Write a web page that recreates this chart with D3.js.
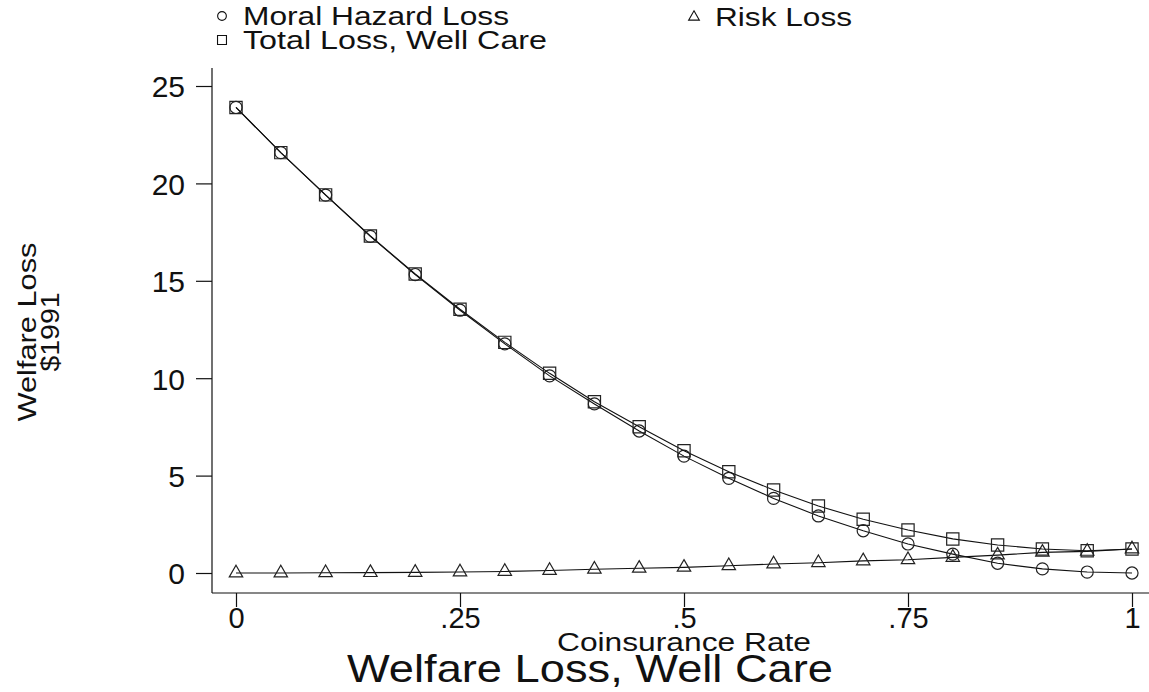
<!DOCTYPE html>
<html>
<head>
<meta charset="utf-8">
<script src="https://cdn.jsdelivr.net/npm/d3@7"></script>
<style>
  html, body { margin: 0; padding: 0; background: #fff; }
  svg { display: block; font-family: "Liberation Sans", Arial, sans-serif; }
</style>
</head>
<body>
<svg id="chart" width="1149" height="692"></svg>
<script>
// Coinsurance rate grid
const rate = [0, 0.05, 0.10, 0.15, 0.20, 0.25, 0.30, 0.35, 0.40, 0.45, 0.50,
              0.55, 0.60, 0.65, 0.70, 0.75, 0.80, 0.85, 0.90, 0.95, 1.00];
// Welfare loss components ($1991)
const moralHazardLoss = [23.9, 21.58, 19.40, 17.28, 15.32, 13.49, 11.76, 10.12, 8.68, 7.29, 6.00,
                         4.86, 3.83, 2.93, 2.17, 1.49, 0.97, 0.50, 0.21, 0.05, 0.00];
const riskLoss = [0.00, 0.00, 0.01, 0.02, 0.03, 0.05, 0.08, 0.13, 0.19, 0.24, 0.29,
                  0.37, 0.46, 0.53, 0.62, 0.68, 0.80, 0.92, 1.06, 1.11, 1.23];
const totalLoss = [23.9, 21.58, 19.41, 17.30, 15.35, 13.54, 11.84, 10.25, 8.79, 7.51, 6.28,
                   5.20, 4.26, 3.44, 2.76, 2.21, 1.75, 1.44, 1.23, 1.14, 1.23];

const yTicks = [0, 5, 10, 15, 20, 25];
const yTickLabels = ["0", "5", "10", "15", "20", "25"];
const xTicks = [0, 0.25, 0.5, 0.75, 1];
const xTickLabels = ["0", ".25", ".5", ".75", "1"];

const seriesNames = ["Moral Hazard Loss", "Risk Loss", "Total Loss, Well Care"];

const svg = d3.select("#chart");
const ink = "#111";

const x = d3.scaleLinear().domain([0, 1]).range([236, 1132]);
const y = d3.scaleLinear().domain([0, 25]).range([573, 86]);

const axisX = 212, axisY = 593;

// Y axis
const yAxis = d3.axisLeft(y)
  .tickValues(yTicks)
  .tickFormat((d, i) => yTickLabels[i])
  .tickSize(16);
const gy = svg.append("g").attr("transform", `translate(${axisX},0)`).call(yAxis);
gy.select(".domain").remove();
gy.selectAll(".tick line").attr("stroke", ink).attr("stroke-width", 1.2);
gy.selectAll(".tick text").attr("font-size", 30).attr("fill", ink)
  .attr("x", -27).attr("dy", "0.36em");
svg.append("line").attr("x1", axisX).attr("x2", axisX).attr("y1", 68).attr("y2", axisY)
  .attr("stroke", ink).attr("stroke-width", 1.2);

// X axis
const xAxis = d3.axisBottom(x)
  .tickValues(xTicks)
  .tickFormat((d, i) => xTickLabels[i])
  .tickSize(14);
const gx = svg.append("g").attr("transform", `translate(0,${axisY})`).call(xAxis);
gx.select(".domain").remove();
gx.selectAll(".tick line").attr("stroke", ink).attr("stroke-width", 1.2);
gx.selectAll(".tick text").attr("font-size", 29).attr("fill", ink)
  .attr("y", 35).attr("dy", 0);
svg.append("line").attr("x1", axisX).attr("x2", 1149).attr("y1", axisY).attr("y2", axisY)
  .attr("stroke", ink).attr("stroke-width", 1.2);

// Axis titles (Stata-style wide lettering)
svg.append("text").attr("x", 557).attr("y", 651)
  .attr("font-size", 26).attr("fill", ink)
  .attr("textLength", 254).attr("lengthAdjust", "spacingAndGlyphs")
  .text("Coinsurance Rate");
svg.append("text").attr("x", 347).attr("y", 682)
  .attr("font-size", 39).attr("fill", ink)
  .attr("textLength", 486).attr("lengthAdjust", "spacingAndGlyphs")
  .text("Welfare Loss, Well Care");
const yTitle = svg.append("g").attr("transform", "translate(0,332) rotate(-90)");
yTitle.append("text").attr("x", 0).attr("y", 36).attr("text-anchor", "middle")
  .attr("font-size", 26).attr("fill", ink)
  .attr("textLength", 179).attr("lengthAdjust", "spacingAndGlyphs")
  .text("Welfare Loss");
yTitle.append("text").attr("x", 0).attr("y", 59).attr("text-anchor", "middle")
  .attr("font-size", 26).attr("fill", ink)
  .attr("textLength", 79).attr("lengthAdjust", "spacingAndGlyphs")
  .text("$1991");

// Marker shapes
const markerPath = {
  circle: d3.symbol().type(d3.symbolCircle).size(115),
  triangle: d3.symbol().type(d3.symbolTriangle).size(78),
  square: d3.symbol().type(d3.symbolSquare).size(150)
};

const series = [
  { name: seriesNames[0], values: moralHazardLoss, shape: "circle" },
  { name: seriesNames[1], values: riskLoss, shape: "triangle" },
  { name: seriesNames[2], values: totalLoss, shape: "square" }
];

const line = d3.line().x(d => x(d[0])).y(d => y(d[1]));

series.forEach(s => {
  const pts = rate.map((r, i) => [r, s.values[i]]);
  svg.append("path").datum(pts).attr("d", line)
    .attr("fill", "none").attr("stroke", ink).attr("stroke-width", 1.1);
  svg.append("g").selectAll("path").data(pts).join("path")
    .attr("transform", d => `translate(${x(d[0])},${y(d[1])})`)
    .attr("d", markerPath[s.shape]())
    .attr("fill", "none").attr("stroke", "#222").attr("stroke-width", 1.2);
});

// Legend
const legendItems = [
  { name: seriesNames[0], shape: "circle", mx: 222, my: 16, w: 266 },
  { name: seriesNames[1], shape: "triangle", mx: 694, my: 17, w: 137 },
  { name: seriesNames[2], shape: "square", mx: 222, my: 40, w: 304 }
];
const lg = svg.append("g");
legendItems.forEach(it => {
  const sym = {
    circle: d3.symbol().type(d3.symbolCircle).size(60),
    triangle: d3.symbol().type(d3.symbolTriangle).size(50),
    square: d3.symbol().type(d3.symbolSquare).size(80)
  }[it.shape];
  lg.append("path").attr("transform", `translate(${it.mx},${it.my})`).attr("d", sym())
    .attr("fill", "none").attr("stroke", ink).attr("stroke-width", 1.1);
  lg.append("text").attr("x", it.mx + 21).attr("y", it.my + 9)
    .attr("font-size", 26).attr("fill", ink)
    .attr("textLength", it.w).attr("lengthAdjust", "spacingAndGlyphs")
    .text(it.name);
});
</script>
</body>
</html>
